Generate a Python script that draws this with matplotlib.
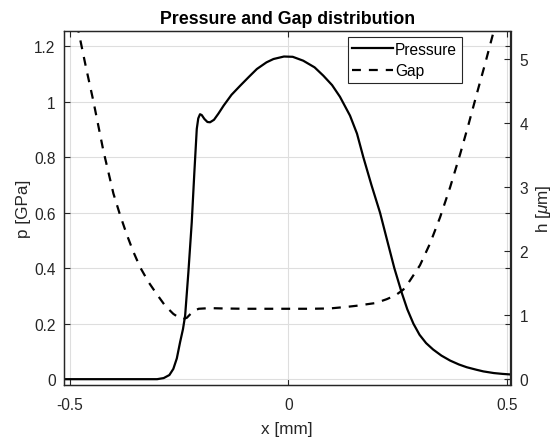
import matplotlib
matplotlib.use("Agg")
import matplotlib.pyplot as plt

# -------- values --------
X_P = [-0.513, -0.40, -0.30, -0.285, -0.272, -0.263, -0.255, -0.2476, -0.241, -0.236,
       -0.2286, -0.2209, -0.2149, -0.2094, -0.206, -0.202, -0.198, -0.192, -0.185, -0.179,
       -0.170, -0.160, -0.148, -0.13, -0.11, -0.09, -0.072, -0.05, -0.034, -0.01,
       0.01, 0.034, 0.06, 0.08, 0.10, 0.118, 0.141, 0.157, 0.1715, 0.19,
       0.2097, 0.226, 0.2424, 0.259, 0.272, 0.286, 0.300, 0.315, 0.331, 0.35,
       0.37, 0.39, 0.408, 0.43, 0.446, 0.47, 0.49, 0.508]
P_GPA = [0.0, 0.0, 0.0, 0.004, 0.015, 0.037, 0.075, 0.133, 0.18, 0.229,
         0.385, 0.565, 0.746, 0.902, 0.940, 0.955, 0.952, 0.938, 0.927, 0.926,
         0.935, 0.957, 0.986, 1.025, 1.058, 1.09, 1.118, 1.142, 1.154, 1.163,
         1.162, 1.148, 1.124, 1.094, 1.06, 1.018, 0.95, 0.885, 0.80, 0.70,
         0.60, 0.50, 0.40, 0.313, 0.252, 0.200, 0.160, 0.130, 0.107, 0.085,
         0.067, 0.053, 0.043, 0.034, 0.028, 0.022, 0.019, 0.017]

X_H = [-0.484, -0.48, -0.463, -0.446, -0.423, -0.40, -0.385, -0.37, -0.355, -0.339,
       -0.32, -0.301, -0.282, -0.263, -0.252, -0.240, -0.232, -0.225, -0.215, -0.205,
       -0.18, -0.15, -0.1, -0.05, 0.0, 0.05, 0.095, 0.134, 0.16, 0.179,
       0.2, 0.225, 0.245, 0.263, 0.278, 0.301, 0.324, 0.347, 0.37, 0.393,
       0.412, 0.431, 0.45, 0.469, 0.476]
H_UM = [5.55, 5.44, 4.88, 4.35, 3.57, 2.90, 2.57, 2.27, 2.00, 1.75,
        1.52, 1.33, 1.15, 1.02, 0.97, 0.94, 0.96, 1.01, 1.07, 1.10,
        1.11, 1.105, 1.10, 1.10, 1.10, 1.10, 1.105, 1.13, 1.15, 1.17,
        1.19, 1.25, 1.31, 1.40, 1.54, 1.78, 2.12, 2.53, 3.00, 3.52,
        3.98, 4.46, 4.93, 5.42, 5.60]

X_TICKS = [-0.5, 0, 0.5]
X_TICKLABELS = ["-0.5", "0", "0.5"]
P_TICKS = [0, 0.2, 0.4, 0.6, 0.8, 1.0, 1.2]
P_TICKLABELS = ["0", "0.2", "0.4", "0.6", "0.8", "1", "1.2"]
H_TICKS = [0, 1, 2, 3, 4, 5]
H_TICKLABELS = ["0", "1", "2", "3", "4", "5"]

XLIM = (-0.513, 0.508)
PLIM = (-0.021, 1.255)
HLIM = (-0.091, 5.44)

# -------- style (MATLAB-ish look) --------
plt.rcParams['font.family'] = ['Liberation Sans', 'DejaVu Sans']
plt.rcParams['mathtext.fontset'] = 'custom'
plt.rcParams['mathtext.it'] = 'Liberation Sans:italic'
plt.rcParams['mathtext.rm'] = 'Liberation Sans'
plt.rcParams['axes.unicode_minus'] = False

AX_COL = "#262626"
GRID_COL = "#dedede"

fig = plt.figure(figsize=(5.53, 4.39), dpi=100)
ax = fig.add_axes([64 / 553, 53 / 439, 446.5 / 553, 354 / 439])
ax2 = ax.twinx()

ln_p, = ax.plot(X_P, P_GPA, color="black", lw=1.6, label="Pressure")
ln_h, = ax2.plot(X_H, H_UM, color="black", lw=1.6, dashes=(4.0, 3.6), label="Gap")

ax.set_xlim(*XLIM)
ax.set_ylim(*PLIM)
ax2.set_ylim(*HLIM)

ax.set_xticks(X_TICKS)
ax.set_xticklabels(X_TICKLABELS)
ax.set_yticks(P_TICKS)
ax.set_yticklabels(P_TICKLABELS)
ax2.set_yticks(H_TICKS)
ax2.set_yticklabels(H_TICKLABELS)

ax.grid(True, color=GRID_COL, lw=0.8)
ax.set_axisbelow(True)

ax.tick_params(axis="both", direction="in", length=4, width=0.8, colors=AX_COL,
               labelsize=11.2, top=True, right=True)
ax.tick_params(axis="x", pad=9)
ax.tick_params(axis="y", pad=6)
ax2.tick_params(axis="y", direction="in", length=4, width=0.8, colors=AX_COL,
                labelsize=11.2, pad=6.5)

for a in (ax, ax2):
    for s in a.spines.values():
        s.set_color(AX_COL)
        s.set_linewidth(0.9)

ax.set_xlabel("x [mm]", fontsize=12.3, color=AX_COL, labelpad=6)
ax.set_ylabel("p [GPa]", fontsize=12.3, color=AX_COL, labelpad=2)
ax2.set_ylabel(r"h [$\mu$m]", fontsize=12.3, color=AX_COL, labelpad=4.5)
ax.set_title("Pressure and Gap distribution", fontsize=12.8, fontweight="bold",
             color="black", pad=6)

leg = ax2.legend([ln_p, ln_h], ["Pressure", "Gap"], loc="upper right",
                 bbox_to_anchor=(0.891, 0.983), fontsize=11.2, frameon=True,
                 fancybox=False, framealpha=1, edgecolor=AX_COL,
                 handlelength=2.6, handletextpad=0.15, borderpad=0.3,
                 labelspacing=0.42, borderaxespad=0)
leg.get_frame().set_linewidth(0.8)

fig.savefig("out.png", dpi=100)
